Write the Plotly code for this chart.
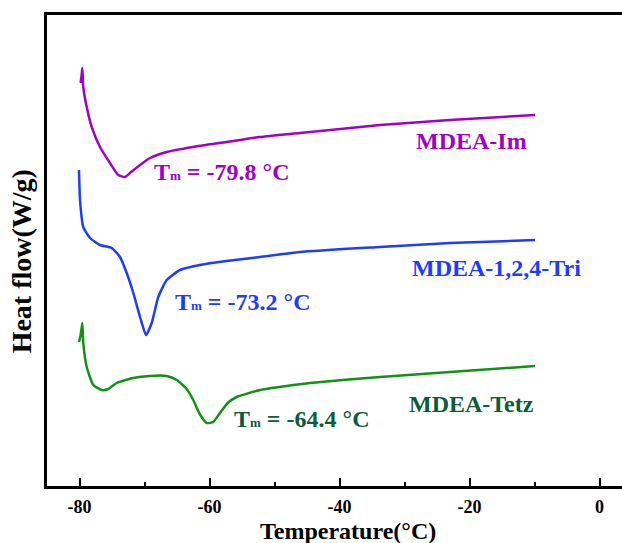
import plotly.graph_objects as go

# Temperature (°C) and heat flow (arbitrary W/g units)
t_im = [-79.83, -79.69, -79.57, -79.42, -78.89, -78.12, -76.85, -75.31, -74.03, -73.0,
        -72.23, -70.69, -69.15, -66.58, -62.54, -57.35, -52.23, -46.08, -33.77, -23.0, -9.92]
hf_im = [4.03, 4.10, 4.18, 3.99, 3.79, 3.59, 3.39, 3.23, 3.11, 3.09,
         3.13, 3.21, 3.28, 3.34, 3.39, 3.44, 3.49, 3.53, 3.61, 3.66, 3.71]

t_tri = [-80.08, -79.92, -79.42, -78.38, -76.85, -75.05, -73.77, -72.74, -71.72, -70.69, -69.77,
         -68.89, -67.88, -66.58, -64.54, -61.46, -57.35, -52.23, -46.08, -33.77, -23.0, -9.92]
hf_tri = [3.16, 2.86, 2.59, 2.48, 2.41, 2.38, 2.29, 2.13, 1.93, 1.69, 1.51,
          1.63, 1.89, 2.06, 2.16, 2.21, 2.25, 2.29, 2.34, 2.39, 2.43, 2.46]

t_tetz = [-80.08, -79.85, -79.57, -79.42, -78.89, -77.88, -76.58, -75.57, -74.28, -71.72, -69.15,
          -66.58, -65.05, -63.51, -62.5, -61.5, -60.43, -59.42, -58.4, -57.2, -55.82, -52.23,
          -47.11, -44.54, -33.77, -23.0, -9.92]
hf_tetz = [1.44, 1.50, 1.63, 1.43, 1.19, 1.01, 0.96, 0.97, 1.03, 1.08, 1.10,
           1.10, 1.06, 0.97, 0.86, 0.72, 0.63, 0.64, 0.73, 0.83, 0.89, 0.96,
           1.01, 1.03, 1.09, 1.14, 1.20]

series_names = ["MDEA-Im", "MDEA-1,2,4-Tri", "MDEA-Tetz"]
tm_values = ["-79.8", "-73.2", "-64.4"]
tick_vals = [-80, -60, -40, -20, 0]
tick_text = ["-80", "-60", "-40", "-20", "0"]

line_colors = ["#A000C8", "#1E3CFF", "#129212"]
text_colors = ["#A000C8", "#1E3CFF", "#0B5C3A"]

FONT = "Times New Roman, Liberation Serif, serif"

fig = go.Figure()
for t, hf, name, col in zip([t_im, t_tri, t_tetz], [hf_im, hf_tri, hf_tetz], series_names, line_colors):
    fig.add_trace(go.Scatter(x=t, y=hf, mode="lines", name=name,
                             line=dict(color=col, width=2.5, shape="spline", smoothing=0.5)))

# label positions (paper coords)
name_pos = [(0.7374, 0.7325), (0.7826, 0.4628), (0.7391, 0.1741)]
tm_pos = [(0.1825, 0.6667), (0.2195, 0.3907), (0.3225, 0.1423)]
ann = []
for (x, y), txt, col in zip(name_pos, series_names, text_colors):
    ann.append(dict(x=x, y=y, xref="paper", yref="paper", text=txt, showarrow=False,
                    xanchor="center", yanchor="middle",
                    font=dict(family=FONT, size=24, color=col, weight="bold")))
for (x, y), val, col in zip(tm_pos, tm_values, text_colors):
    txt = "T<span style='font-size:13px'>m</span> = " + val + " °C"
    ann.append(dict(x=x, y=y, xref="paper", yref="paper", text=txt, showarrow=False,
                    xanchor="left", yanchor="middle",
                    font=dict(family=FONT, size=24, color=col, weight="bold")))
ann.append(dict(x=0.5235, y=-0.0945, xref="paper", yref="paper", text="Temperature(°C)",
                showarrow=False, xanchor="center", yanchor="middle",
                font=dict(family=FONT, size=24, color="black", weight="bold")))
ann.append(dict(x=-0.0452, y=0.477, xref="paper", yref="paper", text="Heat flow(W/g)",
                showarrow=False, xanchor="center", yanchor="middle", textangle=-90,
                font=dict(family=FONT, size=28, color="black", weight="bold")))

fig.update_layout(
    width=622, height=543,
    margin=dict(l=47, r=0, t=15, b=57),
    plot_bgcolor="white", paper_bgcolor="white",
    showlegend=False,
    annotations=ann,
    xaxis=dict(range=[-85, 3.46], showgrid=False, zeroline=False,
               showline=True, linecolor="black", linewidth=2.5, mirror=True,
               ticks="inside", ticklen=8, tickwidth=2, tickcolor="black",
               tickvals=tick_vals, ticktext=tick_text, ticklabelstandoff=3,
               minor=dict(dtick=10, tick0=0, ticks="inside", ticklen=4, tickwidth=2, tickcolor="black"),
               tickfont=dict(family=FONT, size=18, color="black", weight="bold")),
    yaxis=dict(range=[0, 4.71], showgrid=False, zeroline=False,
               showline=True, linecolor="black", linewidth=2.5,
               showticklabels=False, ticks=""),
)

fig.write_html("out.html")
